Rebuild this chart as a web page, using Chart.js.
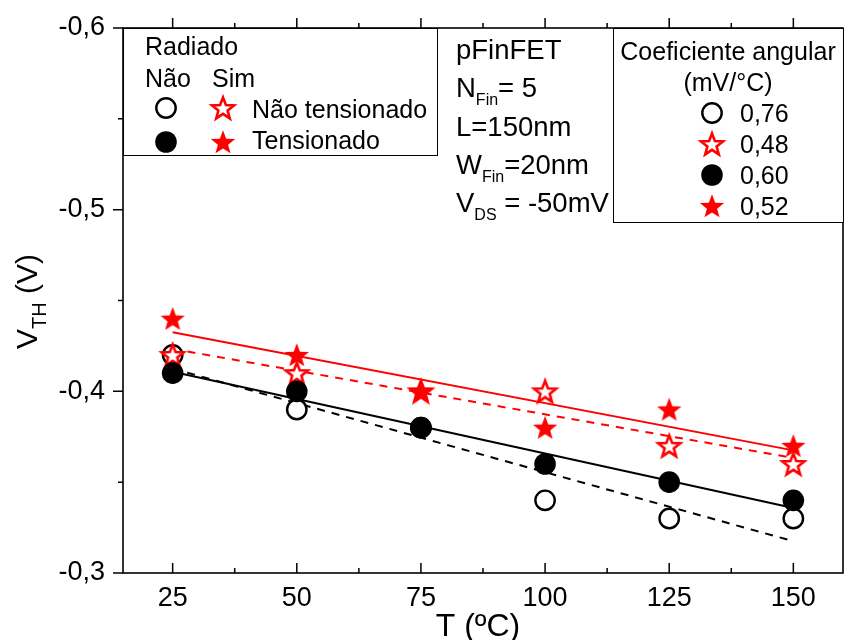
<!DOCTYPE html>
<html lang="pt">
<head>
<meta charset="utf-8">
<title>VTH x T - pFinFET</title>
<script src="https://cdn.jsdelivr.net/npm/chart.js@4"></script>
<style>
  html, body { margin: 0; padding: 0; background: #fff; overflow: hidden; }
  /* o quadro do gráfico continua um pouco além da borda direita */
  #wrap { position: relative; width: 844px; height: 640px; overflow: hidden; }
  #vthChart { display: block; }
</style>
</head>
<body>
<div id="wrap"><canvas id="vthChart" width="856" height="640"></canvas></div>
<script>
// Temperatura (ºC) e tensão de limiar VTH (V) de cada amostra
const temps = [25, 50, 75, 100, 125, 150];
const vthNaoTensNaoRad = [-0.42, -0.39, -0.38, -0.34, -0.33, -0.33]; // círculo vazio
const vthNaoTensRad    = [-0.42, -0.41, -0.40, -0.40, -0.37, -0.36]; // estrela vazia
const vthTensNaoRad    = [-0.41, -0.40, -0.38, -0.36, -0.35, -0.34]; // círculo cheio
const vthTensRad       = [-0.44, -0.42, -0.40, -0.38, -0.39, -0.37]; // estrela cheia

// Coeficiente angular dos ajustes lineares (mV/°C), mesma ordem acima
const slopes = [0.76, 0.48, 0.60, 0.52];
const slopeLabels = ['0,76', '0,48', '0,60', '0,52'];

const xTicks = [25, 50, 75, 100, 125, 150];
const yTicks = [-0.6, -0.5, -0.4, -0.3];

const FONT = '"Liberation Sans", Arial, Helvetica, sans-serif';
const RED = '#ff0000';
const PLOT_RIGHT = 856;

Chart.defaults.font.family = FONT;
Chart.defaults.color = '#000';

// estrela de 5 pontas desenhada num canvas para usar como pointStyle
function makeStar(filled) {
  const size = 32;
  const c = document.createElement('canvas');
  c.width = size; c.height = size;
  const g = c.getContext('2d');
  const R = filled ? 12.8 : 11.6;
  const r = R * 0.42;
  g.beginPath();
  for (let i = 0; i < 10; i++) {
    const rad = i % 2 === 0 ? R : r;
    const a = -Math.PI / 2 + i * Math.PI / 5;
    const px = size / 2 + rad * Math.cos(a);
    const py = size / 2 + 1 + rad * Math.sin(a);
    if (i === 0) g.moveTo(px, py); else g.lineTo(px, py);
  }
  g.closePath();
  if (filled) {
    g.fillStyle = RED;
    g.fill();
  } else {
    g.fillStyle = '#fff';
    g.fill();
    g.lineWidth = 2.6;
    g.lineJoin = 'miter';
    g.strokeStyle = RED;
    g.stroke();
  }
  return c;
}
const starOpen = makeStar(false);
const starFilled = makeStar(true);

function toPoints(values) {
  return temps.map((t, i) => ({ x: t, y: values[i] }));
}

// reta com o coeficiente angular dado, passando pelo ponto médio da série
function fitLine(values, slopeMv) {
  const n = temps.length;
  const mx = temps.reduce((a, b) => a + b, 0) / n;
  const my = values.reduce((a, b) => a + b, 0) / n;
  const m = slopeMv / 1000;
  const x0 = temps[0], x1 = temps[n - 1];
  return [{ x: x0, y: my + m * (x0 - mx) }, { x: x1, y: my + m * (x1 - mx) }];
}

function lineDataset(values, slope, color, dashed, order) {
  return {
    data: fitLine(values, slope),
    showLine: true,
    borderColor: color,
    borderWidth: 2,
    borderDash: dashed ? [8, 7] : [],
    pointRadius: 0,
    order: order
  };
}

// marcadores usados nas legendas (iguais aos do gráfico)
function drawMarker(ctx, kind, x, y) {
  ctx.save();
  if (kind === 'openCircle') {
    ctx.beginPath();
    ctx.arc(x, y, 9.7, 0, Math.PI * 2);
    ctx.fillStyle = '#fff';
    ctx.fill();
    ctx.lineWidth = 2.4;
    ctx.strokeStyle = '#000';
    ctx.stroke();
  } else if (kind === 'filledCircle') {
    ctx.beginPath();
    ctx.arc(x, y, 10.8, 0, Math.PI * 2);
    ctx.fillStyle = '#000';
    ctx.fill();
  } else {
    const img = kind === 'openStar' ? starOpen : starFilled;
    ctx.drawImage(img, x - img.width / 2, y - img.height / 2);
  }
  ctx.restore();
}

// texto com subscritos: parts = [[texto, subscrito?], ...]
function richWidth(ctx, parts, size, subSize) {
  let w = 0;
  parts.forEach(([t, sub]) => {
    ctx.font = (sub ? subSize : size) + 'px ' + FONT;
    w += ctx.measureText(t).width;
  });
  return w;
}
function drawRich(ctx, parts, x, y, size, subSize, subDy) {
  ctx.textAlign = 'left';
  ctx.textBaseline = 'alphabetic';
  parts.forEach(([t, sub]) => {
    ctx.font = (sub ? subSize : size) + 'px ' + FONT;
    ctx.fillText(t, x, sub ? y + subDy : y);
    x += ctx.measureText(t).width;
  });
}

function minorsOf(majors, min, max) {
  const step = majors[1] - majors[0];
  const out = [];
  for (let i = -1; i < majors.length; i++) {
    const v = (i < 0 ? majors[0] - step : majors[i]) + step / 2;
    if (v > min && v < max) out.push(v);
  }
  return out;
}

const framePlugin = {
  id: 'frameAndNotes',
  afterDraw(chart) {
    const { ctx, chartArea: a, scales: { x, y } } = chart;
    ctx.save();

    // moldura e marcas dos eixos
    ctx.strokeStyle = '#000';
    ctx.lineWidth = 1.6;
    ctx.strokeRect(a.left, a.top, a.right - a.left, a.bottom - a.top);

    ctx.lineWidth = 1.5;
    ctx.beginPath();
    xTicks.forEach(v => {
      const px = x.getPixelForValue(v);
      ctx.moveTo(px, a.bottom); ctx.lineTo(px, a.bottom - 10);
      ctx.moveTo(px, a.top); ctx.lineTo(px, a.top - 10);
    });
    minorsOf(xTicks, x.min, x.max).forEach(v => {
      const px = x.getPixelForValue(v);
      ctx.moveTo(px, a.bottom); ctx.lineTo(px, a.bottom - 5);
      ctx.moveTo(px, a.top); ctx.lineTo(px, a.top - 5);
    });
    yTicks.forEach(v => {
      const py = y.getPixelForValue(v);
      ctx.moveTo(a.left, py); ctx.lineTo(a.left - 10, py);
    });
    minorsOf(yTicks, y.min, y.max).forEach(v => {
      const py = y.getPixelForValue(v);
      ctx.moveTo(a.left, py); ctx.lineTo(a.left - 5, py);
    });
    ctx.stroke();

    ctx.fillStyle = '#000';

    // títulos dos eixos
    ctx.font = '32px ' + FONT;
    ctx.textAlign = 'center';
    ctx.textBaseline = 'alphabetic';
    ctx.fillText('T (ºC)', (a.left + a.right) / 2 - 5, 636);

    const yTitle = [['V'], ['TH', true], [' (V)']];
    ctx.save();
    ctx.translate(37, (a.top + a.bottom) / 2 + 1);
    ctx.rotate(-Math.PI / 2);
    drawRich(ctx, yTitle, -richWidth(ctx, yTitle, 30, 20) / 2, 0, 30, 20, 9);
    ctx.restore();

    // legenda: radiado / tensionado
    ctx.lineWidth = 1;
    ctx.fillStyle = '#fff';
    ctx.fillRect(a.left, a.top, 314, 127);
    ctx.strokeRect(a.left + 0.5, a.top + 0.5, 314, 127);
    ctx.fillStyle = '#000';
    ctx.font = '25px ' + FONT;
    ctx.textAlign = 'left';
    ctx.fillText('Radiado', 145, 55);
    ctx.fillText('Não', 145, 87);
    ctx.fillText('Sim', 212, 87);
    drawMarker(ctx, 'openCircle', 166, 108);
    drawMarker(ctx, 'openStar', 223, 108);
    ctx.fillText('Não tensionado', 252, 118);
    drawMarker(ctx, 'filledCircle', 166, 142);
    drawMarker(ctx, 'filledStar', 223, 142);
    ctx.fillStyle = '#000';
    ctx.font = '25px ' + FONT;
    ctx.fillText('Tensionado', 252, 149);

    // parâmetros do dispositivo
    const info = [
      [['pFinFET']],
      [['N'], ['Fin', true], ['= 5']],
      [['L=150nm']],
      [['W'], ['Fin', true], ['=20nm']],
      [['V'], ['DS', true], [' = -50mV']]
    ];
    ctx.fillStyle = '#000';
    info.forEach((parts, i) => drawRich(ctx, parts, 456, 59 + i * 38.25, 27.5, 16, 8));

    // legenda: coeficiente angular
    const bx = 613, bw = a.right - bx;
    ctx.fillStyle = '#fff';
    ctx.fillRect(bx, a.top, bw, 194);
    ctx.strokeRect(bx + 0.5, a.top + 0.5, bw, 194);
    ctx.fillStyle = '#000';
    ctx.font = '25px ' + FONT;
    ctx.textAlign = 'center';
    ctx.fillText('Coeficiente angular', bx + bw / 2, 60);
    ctx.fillText('(mV/°C)', bx + bw / 2, 91);
    const kinds = ['openCircle', 'openStar', 'filledCircle', 'filledStar'];
    kinds.forEach((k, i) => {
      const cy = 113 + i * 31;
      drawMarker(ctx, k, 712, cy);
      ctx.fillStyle = '#000';
      ctx.font = '25px ' + FONT;
      ctx.textAlign = 'left';
      ctx.fillText(slopeLabels[i], 740, cy + 9);
    });

    ctx.restore();
  }
};

const chart = new Chart(document.getElementById('vthChart'), {
  type: 'scatter',
  data: {
    datasets: [
      lineDataset(vthNaoTensNaoRad, slopes[0], '#000', true, 8),
      lineDataset(vthNaoTensRad, slopes[1], RED, true, 7),
      lineDataset(vthTensNaoRad, slopes[2], '#000', false, 6),
      lineDataset(vthTensRad, slopes[3], RED, false, 5),
      {
        data: toPoints(vthNaoTensNaoRad),
        pointStyle: 'circle', pointRadius: 9.7, pointBorderWidth: 2.4,
        pointBorderColor: '#000', pointBackgroundColor: '#fff', order: 4
      },
      {
        data: toPoints(vthNaoTensRad),
        pointStyle: starOpen, pointRadius: 12, order: 3
      },
      {
        data: toPoints(vthTensNaoRad),
        pointStyle: 'circle', pointRadius: 10.8, pointBorderWidth: 0,
        pointBorderColor: '#000', pointBackgroundColor: '#000', order: 2
      },
      {
        data: toPoints(vthTensRad),
        pointStyle: starFilled, pointRadius: 12, order: 1
      }
    ]
  },
  options: {
    responsive: false,
    devicePixelRatio: 1,
    animation: false,
    layout: { padding: { top: 28, left: 0, right: 0, bottom: 0 } },
    plugins: { legend: { display: false }, tooltip: { enabled: false } },
    scales: {
      x: {
        type: 'linear', min: 15, max: 160,
        afterBuildTicks: s => { s.ticks = xTicks.map(v => ({ value: v })); },
        afterFit: s => { s.height = 67; s.paddingLeft = 0; s.paddingRight = 0; },
        grid: { display: false, drawTicks: false },
        border: { display: false },
        ticks: { padding: 9, font: { size: 27 }, callback: v => String(v) }
      },
      y: {
        type: 'linear', reverse: true, min: -0.6, max: -0.3,
        afterBuildTicks: s => { s.ticks = yTicks.map(v => ({ value: v })); },
        afterFit: s => {
          s.width = 123;
          s.paddingTop = 0; s.paddingBottom = 0;
          s.paddingLeft = 0; s.paddingRight = 0;
        },
        grid: { display: false, drawTicks: false },
        border: { display: false },
        ticks: { padding: 18, font: { size: 27 }, callback: v => v.toFixed(1).replace('.', ',') }
      }
    }
  },
  plugins: [framePlugin]
});

// alarga o canvas até o quadro terminar em PLOT_RIGHT
const dx = PLOT_RIGHT - chart.chartArea.right;
if (Math.abs(dx) > 0.5) chart.resize(chart.width + dx, 640);
</script>
</body>
</html>
